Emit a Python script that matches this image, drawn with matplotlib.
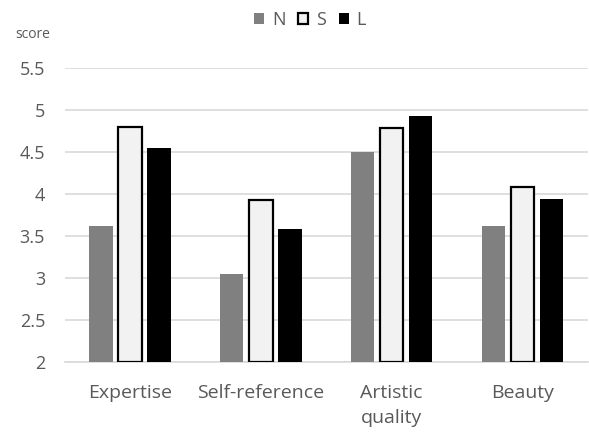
import matplotlib.pyplot as plt
import numpy as np

categories = ["Expertise", "Self-reference", "Artistic\nquality", "Beauty"]
series_names = ["N", "S", "L"]
n_vals = [3.61, 3.04, 4.50, 3.61]
s_vals = [4.79, 3.92, 4.78, 4.08]
l_vals = [4.55, 3.58, 4.93, 3.94]
yticks = [2, 2.5, 3, 3.5, 4, 4.5, 5, 5.5]
ytick_labels = ["2", "2.5", "3", "3.5", "4", "4.5", "5", "5.5"]

plt.rcParams['font.family'] = ['Open Sans', 'DejaVu Sans']
W, H = 589, 434
fig = plt.figure(figsize=(W / 100, H / 100), dpi=100)
ax = fig.add_axes([64.5 / W, (H - 361.7) / H, (588 - 64.5) / W, (361.7 - 67.7) / H])

x = np.arange(len(categories))
bw = 0.179
off = 0.222
styles = [
    dict(color="#808080", edgecolor="none"),
    dict(color="#f2f2f2", edgecolor="black", linewidth=1.6),
    dict(color="black", edgecolor="none"),
]
for i, (vals, st) in enumerate(zip([n_vals, s_vals, l_vals], styles)):
    ax.bar(x + (i - 1) * off, np.array(vals) - 2, bottom=2, width=bw,
           label=series_names[i], zorder=3, **st)

ax.set_xlim(-0.5, len(categories) - 0.5)
ax.set_ylim(2, 5.5)
ax.set_yticks(yticks)
ax.set_yticklabels(ytick_labels)
ax.set_xticks(x)
ax.set_xticklabels(categories, linespacing=1.5)
ax.tick_params(axis='both', length=0, colors="#595959")
ax.tick_params(axis='y', pad=14, labelsize=13)
ax.tick_params(axis='x', pad=16, labelsize=14)
ax.grid(axis='y', color="#d9d9d9", linewidth=1.2, zorder=0)
for s in ["top", "right", "left"]:
    ax.spines[s].set_visible(False)
ax.spines["bottom"].set_color("#d9d9d9")
ax.spines["bottom"].set_linewidth(1.2)

fig.text(15 / W, 1 - 34 / H, "score", fontsize=10, color="#595959", va="center")

leg = fig.legend(loc="center", bbox_to_anchor=(310 / W, 1 - 20 / H), ncol=3,
                 frameon=False, fontsize=13, handlelength=0.55, handleheight=0.55,
                 handletextpad=0.45, columnspacing=0.7, borderpad=0)
for t in leg.get_texts():
    t.set_color("#595959")

fig.savefig("out.png", dpi=100)
